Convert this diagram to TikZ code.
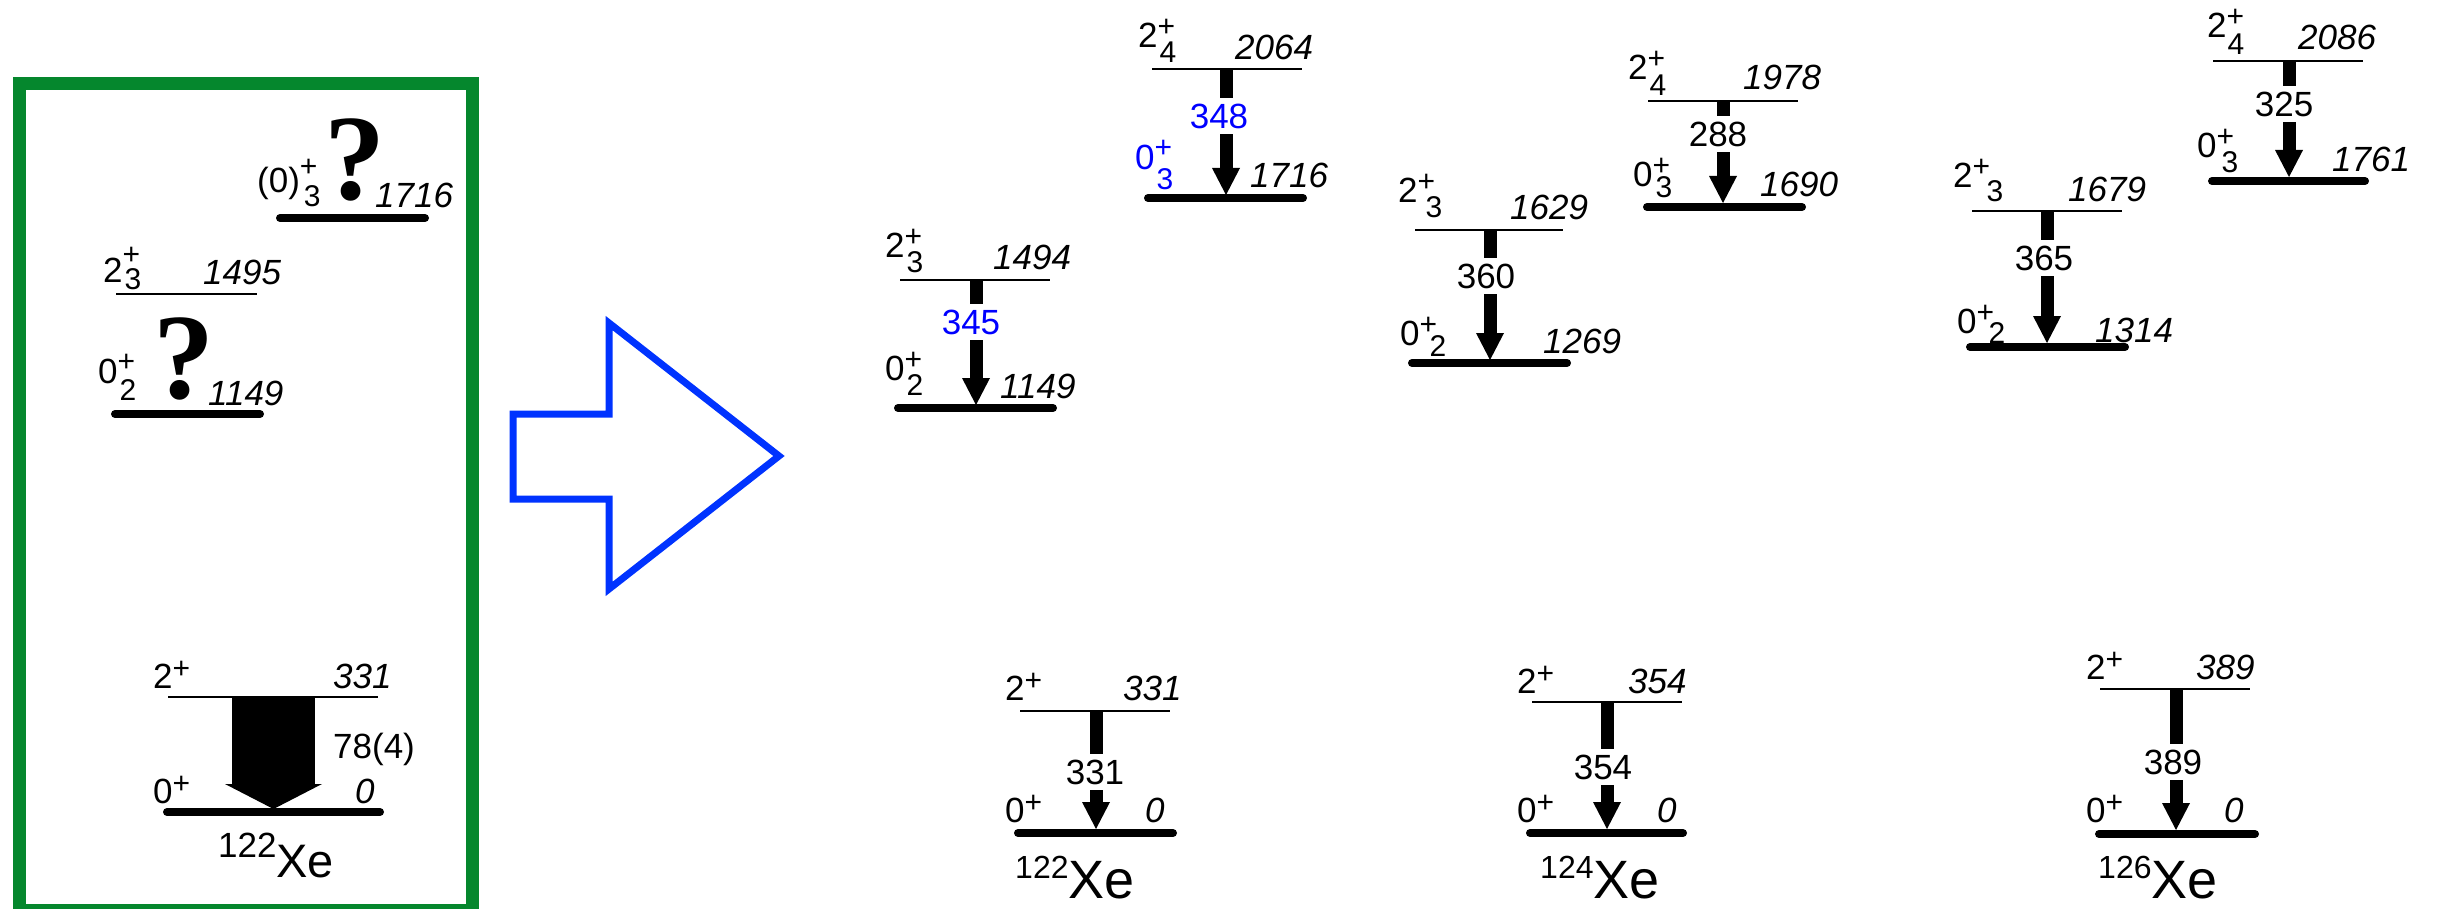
\documentclass[tikz,border=0pt]{standalone}
\usepackage{fontspec}
\setmainfont{Liberation Sans}
\newfontfamily\qfont{Liberation Serif}
\usetikzlibrary{arrows.meta}
\definecolor{boxgreen}{RGB}{5,135,45}
\definecolor{arrblue}{RGB}{0,51,255}
\definecolor{txtblue}{RGB}{0,0,255}
\newcommand{\supfont}{\fontsize{30}{30}\selectfont}
% raise of +, drop of subscript, kern of subscript, main, subscript
\newcommand{\jpx}[5]{#4\rlap{\raisebox{#1}{\supfont +}}\raisebox{-#2}{\kern#3\supfont #5}}
\newcommand{\jpi}[2]{\jpx{11pt}{15pt}{2pt}{#1}{#2}}
\newcommand{\jpl}[2][10pt]{#2\raisebox{#1}{\supfont +}}
\newcommand{\nucl}[3]{\raisebox{20pt}{\fontsize{#2}{#2}\selectfont #1}Xe}
\begin{document}
\begin{tikzpicture}[x=1pt,y=-1pt,
  lbl/.style={inner sep=0pt,anchor=base west,font=\fontsize{35}{35}\selectfont},
  en/.style={inner sep=0pt,anchor=base west,font=\fontsize{35}{35}\selectfont\itshape},
  lev/.style={line width=1.8pt},
  glev/.style={line width=8pt,line cap=round},
  gam/.style={line width=13pt,-{Triangle[width=28pt,length=27pt,line width=0pt]}},
  glbl/.style={fill=white,inner xsep=2pt,inner ysep=6pt,anchor=center,font=\fontsize{35}{35}\selectfont},
  qmark/.style={inner sep=0pt,anchor=base,font=\fontsize{122}{122}\selectfont\qfont\bfseries},
  nuc/.style={inner sep=0pt,anchor=base west,font=\fontsize{54}{54}\selectfont},
]
\useasboundingbox (0,0) rectangle (2441,909);
\fill[white] (0,0) rectangle (2441,909);

% ---------------- left panel (green box) ----------------
\draw[boxgreen,line width=13.5pt] (19.5,83.5) rectangle (472.5,911);

\node[lbl] (L3j) at (257,193) {\jpx{16pt}{14pt}{4pt}{(0)}{3}};
\node[qmark] (L3q) at (355,200) {?};
\node[en] (L3e) at (375,208) {1716};
\draw[glev] (280,218) -- (425,218);

\node[lbl] (L2j) at (103,283) {\jpx{18pt}{7pt}{2pt}{2}{3}};
\node[en] (L2e) at (203,285) {1495};
\draw[lev] (116,294) -- (257,294);

\node[lbl] (L0j) at (98,383) {\jpx{12pt}{17pt}{2pt}{0}{2}};
\node[qmark] (L0q) at (184,398) {?};
\node[en] (L0e) at (208,405) {1149};
\draw[glev] (115,414) -- (260,414);

\node[lbl] (Lg2j) at (153,688) {\jpl{2}};
\node[en] (Lg2e) at (333,688) {331};
\draw[lev] (168,697) -- (378,697);
\node[lbl] (Lg0j) at (153,803) {\jpl{0}};
\node[en] (Lg0e) at (355,803) {0};
\draw[glev] (167,812) -- (380,812);
\coordinate (LT) at (273.5,697);
\coordinate (LB) at (273.5,809);
\draw[line width=83pt,-{Triangle[width=97pt,length=25pt,line width=0pt]}] (LT) -- (LB);
\node[lbl] (Lint) at (333,758) {78(4)};
\node[inner sep=0pt,anchor=base west,font=\fontsize{47}{47}\selectfont] (Lnuc) at (218,877) {\nucl{122}{35}{}};

% ---------------- blue hollow arrow ----------------
\draw[arrblue,line width=7pt,line join=miter,miter limit=10]
  (513,414) -- (609,414) -- (609,323) -- (779,456) -- (609,589) -- (609,499) -- (513,499) -- cycle;

% ---------------- 122Xe: 2_3 -> 0_2 ----------------
\node[lbl] (A2j) at (885,258) {\jpi{2}{3}};
\node[en] (A2e) at (993,270) {1494};
\draw[lev] (900,280) -- (1050,280);
\node[lbl] (A0j) at (885,380) {\jpi{0}{2}};
\node[en] (A0e) at (1000,398) {1149};
\draw[glev] (898,408) -- (1053,408);
\coordinate (AT) at (976,280);
\coordinate (AB) at (976,405);
\draw[gam] (AT) -- (AB);
\node[glbl,text=txtblue] (Ag) at (971,322) {345};

% ---------------- 122Xe: 2_4 -> 0_3 ----------------
\node[lbl] (B2j) at (1138,48) {\jpi{2}{4}};
\node[en] (B2e) at (1235,60) {2064};
\draw[lev] (1152,69) -- (1302,69);
\node[lbl,text=txtblue] (B0j) at (1135,170) {\jpx{12pt}{20pt}{2pt}{0}{3}};
\node[en] (B0e) at (1250,188) {1716};
\draw[glev] (1148,198) -- (1303,198);
\coordinate (BT) at (1226,69);
\coordinate (BB) at (1226,195);
\draw[gam] (BT) -- (BB);
\node[glbl,text=txtblue] (Bg) at (1219,116) {348};

% ---------------- 124Xe: 2_3 -> 0_2 ----------------
\node[lbl] (C2j) at (1398,203) {\jpx{11pt}{15pt}{8pt}{2}{3}};
\node[en] (C2e) at (1510,220) {1629};
\draw[lev] (1415,230) -- (1563,230);
\node[lbl] (C0j) at (1400,345) {\jpx{11pt}{11pt}{10pt}{0}{2}};
\node[en] (C0e) at (1543,353) {1269};
\draw[glev] (1412,363) -- (1567,363);
\coordinate (CT) at (1490,230);
\coordinate (CB) at (1490,360);
\draw[gam] (CT) -- (CB);
\node[glbl] (Cg) at (1486,276) {360};

% ---------------- 124Xe: 2_4 -> 0_3 ----------------
\node[lbl] (D2j) at (1628,80) {\jpx{11pt}{16pt}{2pt}{2}{4}};
\node[en] (D2e) at (1743,90) {1978};
\draw[lev] (1648,101) -- (1798,101);
\node[lbl] (D0j) at (1633,187) {\jpx{11pt}{11pt}{3pt}{0}{3}};
\node[en] (D0e) at (1760,197) {1690};
\draw[glev] (1647,207) -- (1802,207);
\coordinate (DT) at (1723,101);
\coordinate (DB) at (1723,203);
\draw[gam] (DT) -- (DB);
\node[glbl] (Dg) at (1718,134) {288};

% ---------------- 126Xe: 2_3 -> 0_2 ----------------
\node[lbl] (E2j) at (1953,188) {\jpx{11pt}{14pt}{14pt}{2}{3}};
\node[en] (E2e) at (2068,202) {1679};
\draw[lev] (1972,211) -- (2122,211);
\node[lbl] (E0j) at (1957,333) {\jpx{11pt}{10pt}{12pt}{0}{2}};
\node[en] (E0e) at (2095,342) {1314};
\draw[glev] (1970,347) -- (2125,347);
\coordinate (ET) at (2047,211);
\coordinate (EB) at (2047,343);
\draw[gam] (ET) -- (EB);
\node[glbl] (Eg) at (2044,258) {365};

% ---------------- 126Xe: 2_4 -> 0_3 ----------------
\node[lbl] (F2j) at (2207,38) {\jpx{11pt}{17pt}{1pt}{2}{4}};
\node[en] (F2e) at (2298,50) {2086};
\draw[lev] (2213,61) -- (2363,61);
\node[lbl] (F0j) at (2197,158) {\jpx{11pt}{15pt}{5pt}{0}{3}};
\node[en] (F0e) at (2332,172) {1761};
\draw[glev] (2212,181) -- (2365,181);
\coordinate (FT) at (2289,61);
\coordinate (FB) at (2289,177);
\draw[gam] (FT) -- (FB);
\node[glbl] (Fg) at (2284,104) {325};

% ---------------- ground-state bands ----------------
% 122Xe
\node[lbl] (G1a) at (1005,700) {\jpl{2}};
\node[en] (G1b) at (1123,700) {331};
\draw[lev] (1020,711) -- (1170,711);
\node[lbl] (G1c) at (1005,822) {\jpl{0}};
\node[en] (G1d) at (1145,822) {0};
\draw[glev] (1018,833) -- (1173,833);
\coordinate (G1T) at (1096,711);
\coordinate (G1B) at (1096,829);
\draw[gam] (G1T) -- (G1B);
\node[glbl] (G1g) at (1095,772) {331};
\node[nuc] (G1n) at (1015,898) {\nucl{122}{32}{}};

% 124Xe
\node[lbl] (G2a) at (1517,693) {\jpl{2}};
\node[en] (G2b) at (1628,693) {354};
\draw[lev] (1532,702) -- (1682,702);
\node[lbl] (G2c) at (1517,822) {\jpl{0}};
\node[en] (G2d) at (1657,822) {0};
\draw[glev] (1530,833) -- (1683,833);
\coordinate (G2T) at (1607,702);
\coordinate (G2B) at (1607,829);
\draw[gam] (G2T) -- (G2B);
\node[glbl] (G2g) at (1603,767) {354};
\node[nuc] (G2n) at (1540,898) {\nucl{124}{32}{}};

% 126Xe
\node[lbl] (G3a) at (2086,679) {\jpl{2}};
\node[en] (G3b) at (2196,679) {389};
\draw[lev] (2100,689) -- (2250,689);
\node[lbl] (G3c) at (2086,822) {\jpl{0}};
\node[en] (G3d) at (2224,822) {0};
\draw[glev] (2099,834) -- (2255,834);
\coordinate (G3T) at (2176,689);
\coordinate (G3B) at (2176,830);
\draw[gam] (G3T) -- (G3B);
\node[glbl] (G3g) at (2173,762) {389};
\node[nuc] (G3n) at (2098,898) {\nucl{126}{32}{}};
\end{tikzpicture}
\end{document}
